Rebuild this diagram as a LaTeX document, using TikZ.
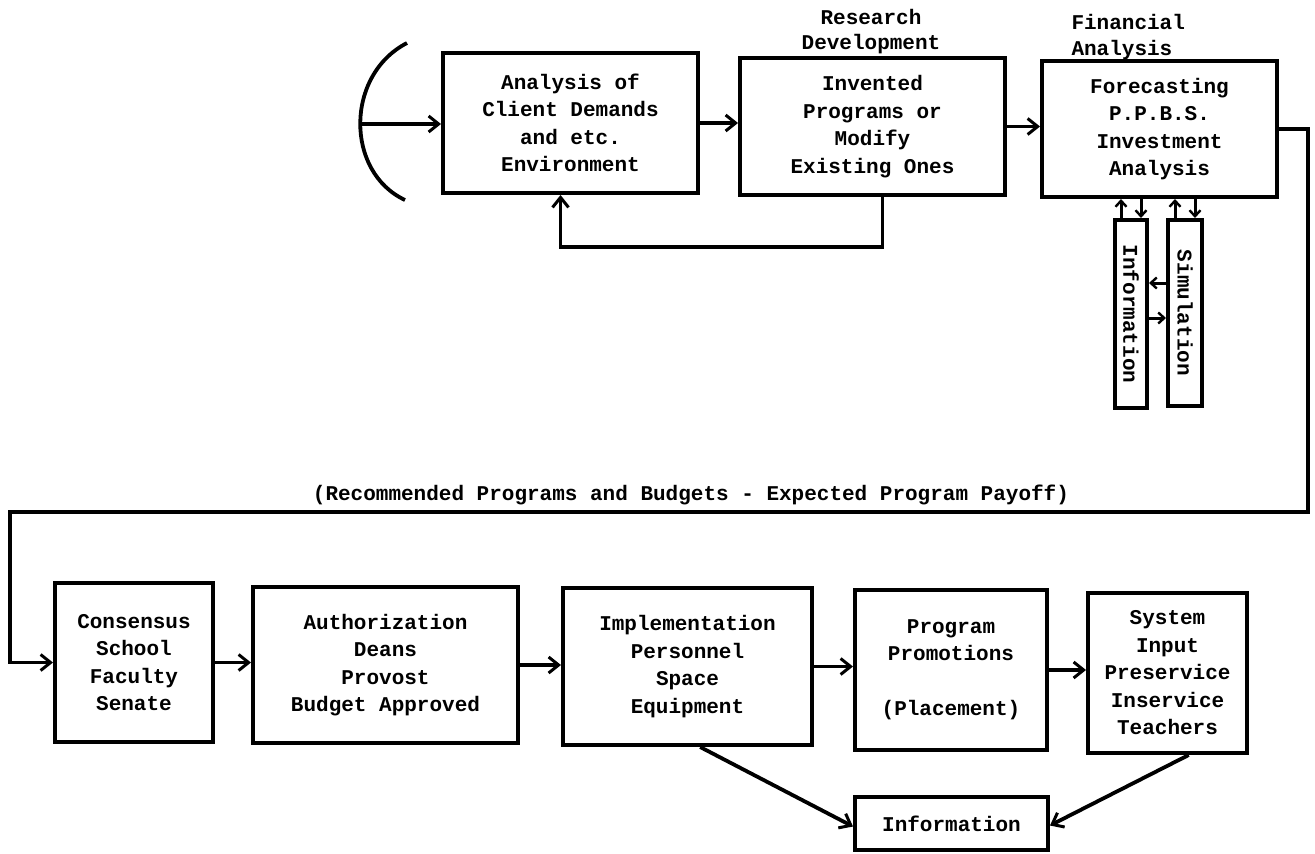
\documentclass[tikz,border=0pt]{standalone}
\usepackage{fontspec}
\setmonofont{Liberation Mono}
\usetikzlibrary{arrows.meta,calc}
\begin{document}
\begin{tikzpicture}[x=1pt,y=-1pt,
  every node/.style={font=\ttfamily\bfseries\fontsize{21}{27.5}\selectfont},
  box/.style={draw,line width=4pt,rectangle,inner sep=0pt,align=center},
  arr/.style={line width=3.8pt,-{Straight Barb[length=10pt,width=16pt,line width=3pt]}},
  ln/.style={line width=3.8pt},
  sarr/.style={line width=3pt,-{Straight Barb[length=6pt,width=11pt,line width=2.4pt]}}]
\useasboundingbox[fill=white] (0,0) rectangle (1315,854);

% top row
\node[box,minimum width=255pt,minimum height=140pt] (b1) at (570.5,123)
  {Analysis of\\Client Demands\\and etc.\\Environment};
\node[box,minimum width=265pt,minimum height=137pt] (b2) at (872.5,126.5)
  {Invented\\Programs or\\Modify\\Existing Ones};
\node[box,minimum width=235pt,minimum height=136pt] (b3) at (1159.5,129)
  {Forecasting\\P.P.B.S.\\Investment\\Analysis};
\node[align=center,font=\ttfamily\bfseries\fontsize{21}{25}\selectfont] (rd) at (871,32) {Research\\Development};
\node[align=left,anchor=west,font=\ttfamily\bfseries\fontsize{21}{26}\selectfont] (fa) at (1068,37) {Financial\\Analysis};

% vertical boxes
\node[box,minimum width=32pt,minimum height=188pt] (info) at (1131,314) {};
\node[rotate=-90] (infot) at (info) {Information};
\node[box,minimum width=34pt,minimum height=186pt] (sim) at (1185,313) {};
\node[rotate=-90] (simt) at (sim) {Simulation};

% incoming arc
\coordinate (arcT) at (407,43);
\coordinate (arcB) at (405,200);
\coordinate (arcM) at (361,124);
\draw[ln] (arcT) .. controls (345,75) and (345,172) .. (arcB);
\draw[arr] (arcM) -- (arcM -| b1.west);

% top arrows
\draw[arr] (b1.east) -- (b1.east -| b2.west);
\draw[arr] (b2.east) -- (b2.east -| b3.west);
\coordinate (fbA) at ([xshift=10pt]b2.south);
\coordinate (fbB) at ([xshift=-10pt]b1.south);
\draw[arr] (fbA) -- ++(0,50) -| (fbB);

% forecasting <-> information / simulation
\draw[sarr] ([xshift=-10pt]info.north) -- ([xshift=-10pt]info.north |- b3.south);
\draw[sarr] ([xshift=10pt]info.north |- b3.south) -- ([xshift=10pt]info.north);
\draw[sarr] ([xshift=-10pt]sim.north) -- ([xshift=-10pt]sim.north |- b3.south);
\draw[sarr] ([xshift=10pt]sim.north |- b3.south) -- ([xshift=10pt]sim.north);
\draw[sarr] ([yshift=30pt]sim.west) -- ([yshift=30pt]sim.west -| info.east);
\draw[sarr] ([yshift=-4pt]info.east) -- ([yshift=-4pt]info.east -| sim.west);

% bottom row
\node[box,minimum width=158pt,minimum height=159pt] (cons) at (134,662.5)
  {Consensus\\School\\Faculty\\Senate};
\node[box,minimum width=265pt,minimum height=156pt] (auth) at (385.5,665)
  {Authorization\\Deans\\Provost\\Budget Approved};
\node[box,minimum width=249pt,minimum height=157pt] (impl) at (687.5,666.5)
  {Implementation\\Personnel\\Space\\Equipment};
\node[box,minimum width=192pt,minimum height=160pt] (prog) at (951,670)
  {Program\\Promotions\\\\(Placement)};
\node[box,minimum width=159pt,minimum height=160pt] (sys) at (1167.5,673)
  {System\\Input\\Preservice\\Inservice\\Teachers};
\node[box,minimum width=193pt,minimum height=53pt] (infob) at (951.5,823.5)
  {Information};

% long return connector
\coordinate (rc) at (1308,0);
\coordinate (lc) at (10,512);
\draw[arr] (b3.east) -- (b3.east -| rc) -- (rc |- lc) -- (lc) |- (cons.west);
\node[anchor=base] (rec) at (691,500) {(Recommended Programs and Budgets - Expected Program Payoff)};

% bottom arrows
\draw[arr] (cons.east) -- (cons.east -| auth.west);
\draw[arr] (auth.east) -- (auth.east -| impl.west);
\draw[arr] (impl.east) -- (impl.east -| prog.west);
\draw[arr] (prog.east) -- (prog.east -| sys.west);
\draw[arr] ($(impl.south west)!0.55!(impl.south east)$) -- ([yshift=-3pt]infob.west);
\draw[arr] ($(sys.south west)!0.63!(sys.south east)$) -- ([yshift=-2pt]infob.east);
\end{tikzpicture}
\end{document}
